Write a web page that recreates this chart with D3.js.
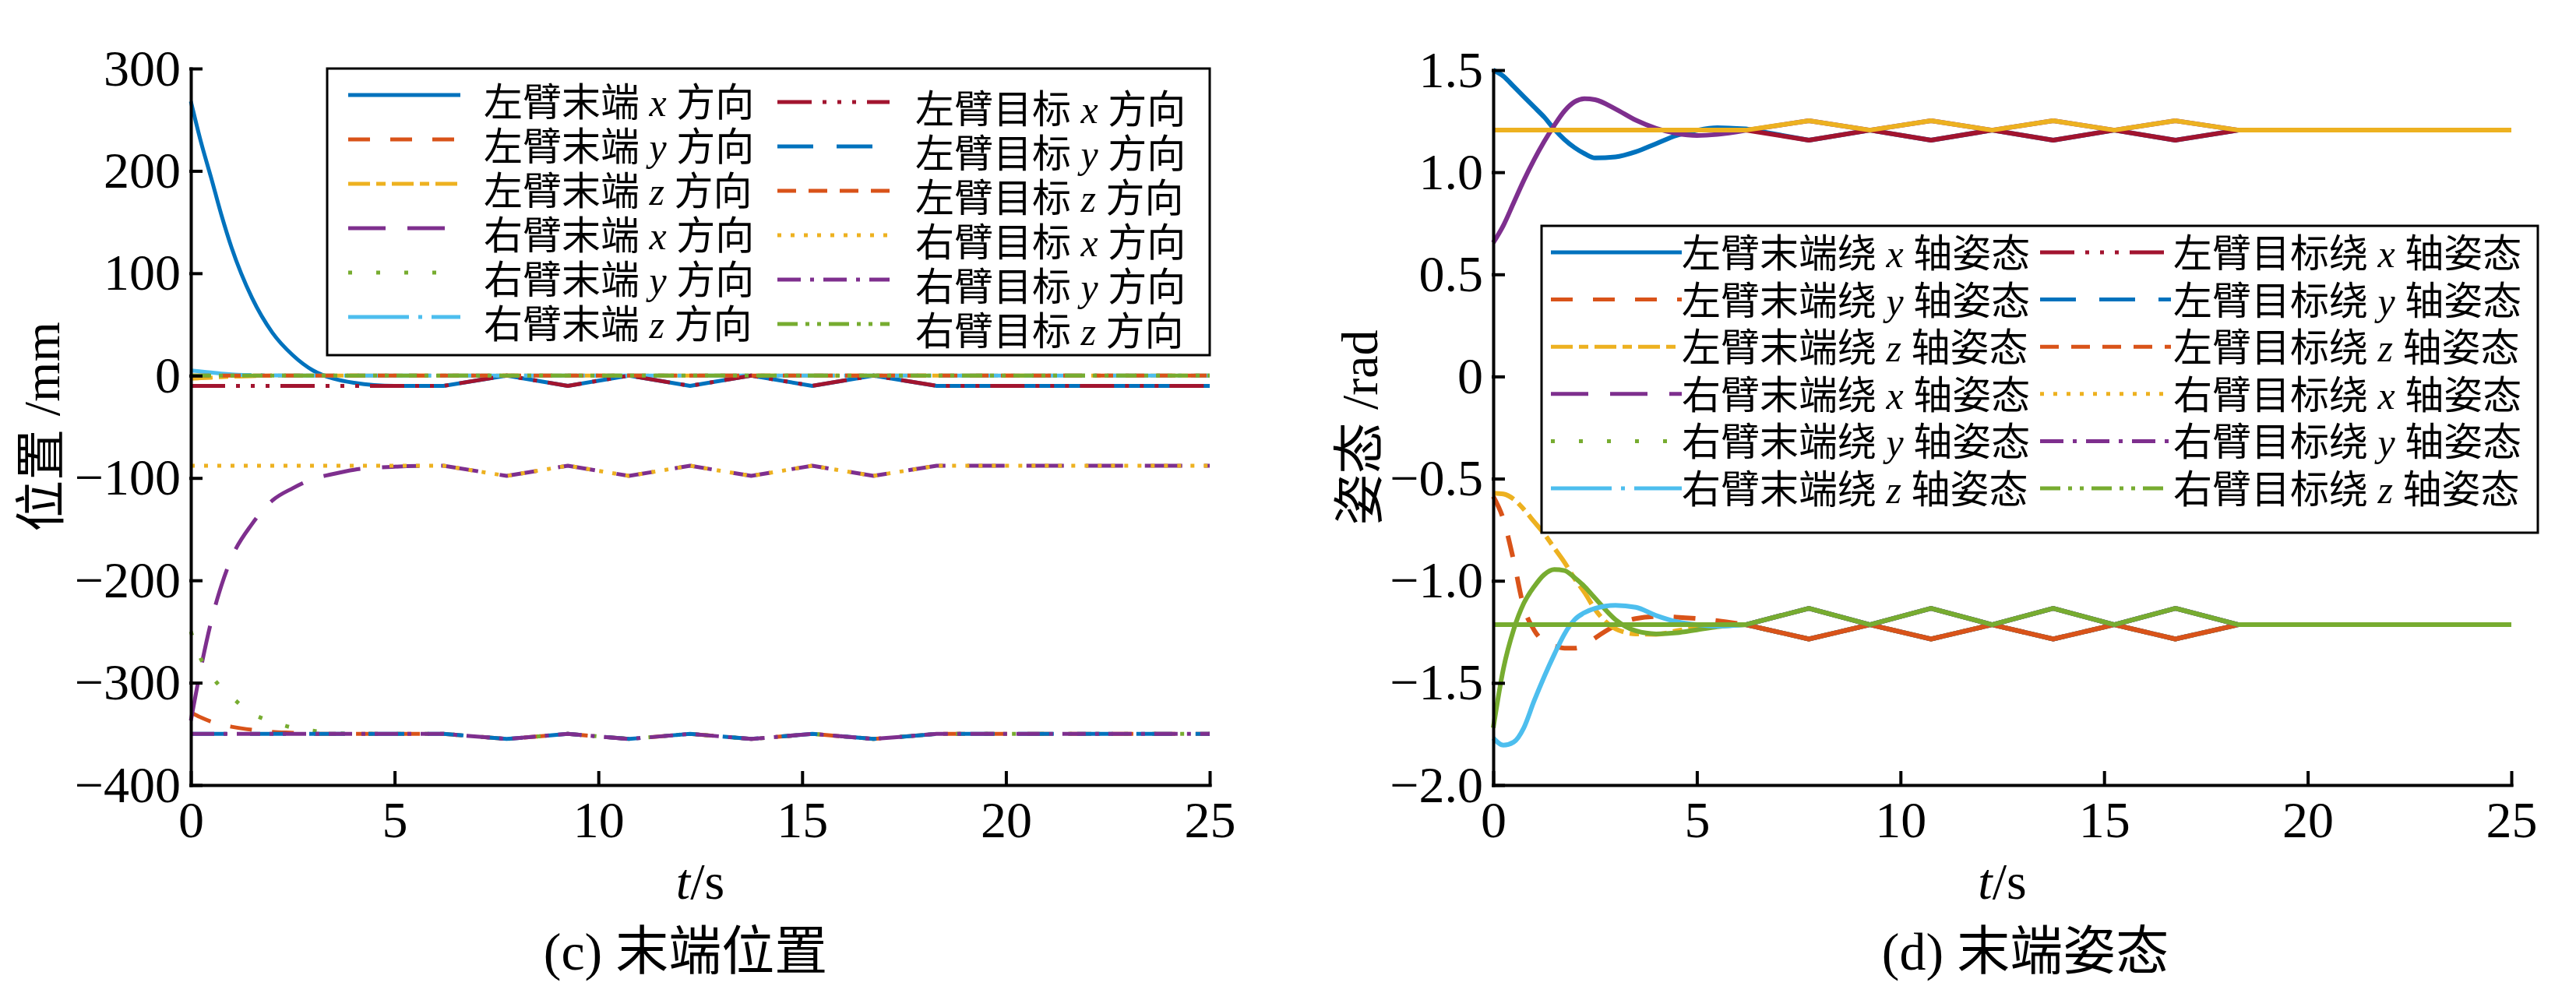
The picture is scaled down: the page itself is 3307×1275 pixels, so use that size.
<html>
<head>
<meta charset="utf-8">
<style>
  body { margin: 0; background: #fff; }
  text { font-family: "Liberation Serif", "Noto Sans CJK SC", serif; fill: #000; }
</style>
</head>
<body>
  <div id = 'chart'></div>
  <script src = 'https://d3js.org/d3.v7.min.js'></script>
  <script>
  // ---------- shared series info ----------
  var seriesArm  = ['左臂末端','左臂末端','左臂末端','右臂末端','右臂末端','右臂末端',
                    '左臂目标','左臂目标','左臂目标','右臂目标','右臂目标','右臂目标'];
  var seriesAxis = ['x','y','z','x','y','z','x','y','z','x','y','z'];
  var seriesColors = ['#0072BD','#D95319','#EDB120','#7E2F8E','#77AC30','#4DBEEE',
                      '#A2142F','#0072BD','#D95319','#EDB120','#7E2F8E','#77AC30'];
  var legendDash = [null,'28,26','28,8,12,8','48,28','5,31','78,12,5,12',
                    '44,14,5,14,5,14,5,14','46,30','24,16','5,12','30,12,5,12','26,10,5,10,5,10'];
  var attDash = [null,'28,26','28,8,12,8',null,null,null,null,null,null,null,null,null];

  // ---------- (c) position, mm ----------
  var timeEndPos = [0, 0.25, 0.5, 0.75, 1, 1.5, 2, 2.5, 3, 3.5, 4, 5, 6.2,
                    7.75, 9.25, 10.75, 12.25, 13.75, 15.25, 16.75, 18.3, 25];
  var leftEndPosX  = [268, 228, 193, 157, 125, 76, 42, 20, 5, -3, -7, -10, -10,
                      0, -10, 0, -10, 0, -10, 0, -10, -10];
  var leftEndPosY  = [-329, -334, -338, -341, -343, -346, -348, -349, -350, -350, -350, -350, -350,
                      -355, -350, -355, -350, -355, -350, -355, -350, -350];
  var leftEndPosZ  = [-3, -2.5, -2, -1.5, -1, -0.5, 0, 0, 0, 0, 0, 0, 0,
                      0, 0, 0, 0, 0, 0, 0, 0, 0];
  var rightEndPosX = [-337, -285, -240, -205, -178, -145, -122, -110, -101, -96, -92, -89, -88,
                      -98, -88, -98, -88, -98, -88, -98, -88, -88];
  var rightEndPosY = [-250, -277, -293, -305, -314, -330, -338, -344, -347, -349, -350, -350, -350,
                      -355, -350, -355, -350, -355, -350, -355, -350, -350];
  var rightEndPosZ = [5, 4, 3, 2, 1.2, 0.5, 0.2, 0, 0, 0, 0, 0, 0,
                      0, 0, 0, 0, 0, 0, 0, 0, 0];

  var timeTarget = [0, 6.2, 7.75, 9.25, 10.75, 12.25, 13.75, 15.25, 16.75, 18.3, 25];
  var leftTgtPosX  = [-10, -10, 0, -10, 0, -10, 0, -10, 0, -10, -10];
  var leftTgtPosY  = [-350, -350, -355, -350, -355, -350, -355, -350, -355, -350, -350];
  var leftTgtPosZ  = [0, 0, 0, 0, 0, 0, 0, 0, 0, 0, 0];
  var rightTgtPosX = [-88, -88, -98, -88, -98, -88, -98, -88, -98, -88, -88];
  var rightTgtPosY = [-350, -350, -355, -350, -355, -350, -355, -350, -355, -350, -350];
  var rightTgtPosZ = [0, 0, 0, 0, 0, 0, 0, 0, 0, 0, 0];

  var posTicks = [-400, -300, -200, -100, 0, 100, 200, 300];
  var posTickLabels = ['\u2212400','\u2212300','\u2212200','\u2212100','0','100','200','300'];

  // ---------- (d) attitude, rad ----------
  var timeEndAtt = [0, 0.25, 0.5, 0.75, 1, 1.25, 1.5, 1.75, 2, 2.25, 2.5, 3, 3.5, 4, 4.5, 5, 5.5, 6.2,
                    7.75, 9.25, 10.75, 12.25, 13.75, 15.25, 16.75, 18.3, 25];
  var leftEndAttX  = [1.50, 1.47, 1.42, 1.37, 1.32, 1.27, 1.21, 1.16, 1.12, 1.09, 1.07, 1.075, 1.10, 1.14, 1.18, 1.205, 1.218, 1.212,
                      1.157, 1.206, 1.157, 1.206, 1.157, 1.206, 1.157, 1.206, 1.206];
  var leftEndAttY  = [-0.587, -0.70, -0.90, -1.13, -1.24, -1.30, -1.32, -1.33, -1.33, -1.315, -1.28, -1.22, -1.185, -1.175, -1.178, -1.185, -1.195, -1.215,
                      -1.285, -1.215, -1.285, -1.215, -1.285, -1.215, -1.285, -1.215, -1.215];
  var leftEndAttZ  = [-0.571, -0.575, -0.60, -0.65, -0.71, -0.77, -0.84, -0.91, -0.99, -1.06, -1.14, -1.235, -1.26, -1.262, -1.245, -1.23, -1.22, -1.215,
                      -1.285, -1.215, -1.285, -1.215, -1.285, -1.215, -1.285, -1.215, -1.215];
  var rightEndAttX = [0.655, 0.74, 0.85, 0.96, 1.06, 1.15, 1.23, 1.30, 1.345, 1.36, 1.355, 1.31, 1.255, 1.215, 1.19, 1.18, 1.185, 1.205,
                      1.252, 1.206, 1.252, 1.206, 1.252, 1.206, 1.252, 1.206, 1.206];
  var rightEndAttY = [-1.72, -1.43, -1.24, -1.11, -1.03, -0.97, -0.945, -0.95, -0.985, -1.03, -1.085, -1.19, -1.245, -1.26, -1.255, -1.24, -1.225, -1.215,
                      -1.135, -1.215, -1.135, -1.215, -1.135, -1.215, -1.135, -1.215, -1.215];
  var rightEndAttZ = [-1.77, -1.805, -1.79, -1.72, -1.59, -1.47, -1.36, -1.26, -1.19, -1.155, -1.135, -1.12, -1.13, -1.17, -1.20, -1.215, -1.222, -1.215,
                      -1.135, -1.215, -1.135, -1.215, -1.135, -1.215, -1.135, -1.215, -1.215];

  var leftTgtAttX  = [1.206, 1.206, 1.157, 1.206, 1.157, 1.206, 1.157, 1.206, 1.157, 1.206, 1.206];
  var leftTgtAttY  = [-1.215, -1.215, -1.285, -1.215, -1.285, -1.215, -1.285, -1.215, -1.285, -1.215, -1.215];
  var leftTgtAttZ  = [-1.215, -1.215, -1.285, -1.215, -1.285, -1.215, -1.285, -1.215, -1.285, -1.215, -1.215];
  var rightTgtAttX = [1.206, 1.206, 1.252, 1.206, 1.252, 1.206, 1.252, 1.206, 1.252, 1.206, 1.206];
  var rightTgtAttY = [-1.215, -1.215, -1.135, -1.215, -1.135, -1.215, -1.135, -1.215, -1.135, -1.215, -1.215];
  var rightTgtAttZ = [-1.215, -1.215, -1.135, -1.215, -1.135, -1.215, -1.135, -1.215, -1.135, -1.215, -1.215];

  var attTicks = [-2, -1.5, -1, -0.5, 0, 0.5, 1, 1.5];
  var attTickLabels = ['\u22122.0','\u22121.5','\u22121.0','\u22120.5','0','0.5','1.0','1.5'];

  var timeTicks = [0, 5, 10, 15, 20, 25];
  var timeTickLabels = ['0','5','10','15','20','25'];

  // ---------- drawing ----------
  var svg = d3.select('#chart').append('svg')
              .attr('width', 3307)
              .attr('height', 1275);

  function drawPanel(cfg){
    var x = d3.scaleLinear().domain([0, 25]).range([cfg.left, cfg.right]),
        y = d3.scaleLinear().domain(cfg.yDomain).range([cfg.bottom, cfg.top]),
        g = svg.append('g');

    var smooth = d3.line()
      .x(function(d){ return x(d[0]); })
      .y(function(d){ return y(d[1]); })
      .curve(d3.curveMonotoneX);
    var straight = d3.line()
      .x(function(d){ return x(d[0]); })
      .y(function(d){ return y(d[1]); });

    cfg.series.forEach(function(s, i){
      var pts = s[0].map(function(t, j){ return [t, s[1][j]]; }),
          d;
      if (i < 6) {
        // smooth transient, then straight tracking segments
        var head = pts.filter(function(p){ return p[0] <= cfg.splitT; }),
            tail = pts.filter(function(p){ return p[0] >= cfg.splitT; });
        d = smooth(head) + straight(tail).replace(/^M/, 'L');
      } else {
        d = straight(pts);
      }
      g.append('path')
        .attr('d', d)
        .attr('fill', 'none')
        .attr('stroke', seriesColors[i])
        .attr('stroke-width', cfg.lineWidth)
        .attr('stroke-dasharray', cfg.dash[i])
        .attr('stroke-linejoin', 'round');
    });

    // legend
    var lg = cfg.legend;
    g.append('rect')
      .attr('x', lg.x).attr('y', lg.y).attr('width', lg.w).attr('height', lg.h)
      .attr('fill', '#fff').attr('stroke', '#000').attr('stroke-width', 3);
    seriesArm.forEach(function(arm, i){
      var col = i < 6 ? 0 : 1,
          row = i % 6,
          ly = lg.rowY + row * lg.rowStep + col * lg.colShift;
      g.append('line')
        .attr('x1', lg.lineX[col]).attr('x2', lg.lineX[col] + lg.lineLen)
        .attr('y1', ly).attr('y2', ly)
        .attr('stroke', seriesColors[i])
        .attr('stroke-width', 5)
        .attr('stroke-dasharray', legendDash[i]);
      var t = g.append('text')
        .attr('x', lg.textX[col])
        .attr('y', ly + lg.textShift)
        .attr('dominant-baseline', 'central')
        .style('font-size', '50px')
        .style('white-space', 'pre');
      t.append('tspan').text(arm + lg.mid + ' ');
      t.append('tspan').style('font-style', 'italic').text(seriesAxis[i]);
      t.append('tspan').text(' ' + lg.suffix);
    });

    // axes
    var yAxis = d3.axisLeft(y)
      .tickValues(cfg.yTicks)
      .tickFormat(function(d, i){ return cfg.yTickLabels[i]; })
      .tickSizeInner(-13).tickSizeOuter(0).tickPadding(13);
    var xAxis = d3.axisBottom(x)
      .tickValues(timeTicks)
      .tickFormat(function(d, i){ return timeTickLabels[i]; })
      .tickSizeInner(-16).tickSizeOuter(0).tickPadding(20);

    var ya = g.append('g').attr('transform', 'translate(' + cfg.left + ',0)').call(yAxis);
    var xa = g.append('g').attr('transform', 'translate(0,' + cfg.bottom + ')').call(xAxis);
    [ya, xa].forEach(function(a){
      a.attr('font-family', null).attr('font-size', null);
      a.selectAll('path, line').attr('stroke', '#000').attr('stroke-width', 4).attr('stroke-linecap', 'square');
      a.selectAll('text').attr('fill', '#000').style('font-size', '66px');
    });

    // labels
    g.append('text')
      .attr('transform', 'translate(' + cfg.yLabelX + ',' + (cfg.top + cfg.bottom) / 2 + ') rotate(-90)')
      .attr('text-anchor', 'middle')
      .attr('dominant-baseline', 'central')
      .style('font-size', '66px')
      .style('white-space', 'pre')
      .text(cfg.yLabel);

    var xl = g.append('text')
      .attr('x', (cfg.left + cfg.right) / 2)
      .attr('y', 1154)
      .attr('text-anchor', 'middle')
      .style('font-size', '66px');
    xl.append('tspan').style('font-style', 'italic').text('t');
    xl.append('tspan').text('/s');

    g.append('text')
      .attr('x', cfg.captionX)
      .attr('y', 1245)
      .attr('text-anchor', 'middle')
      .style('font-size', '68px')
      .style('white-space', 'pre')
      .text(cfg.caption);
  }

  drawPanel({
    left: 245, right: 1553, top: 88, bottom: 1008,
    yDomain: [-400, 300], yTicks: posTicks, yTickLabels: posTickLabels,
    lineWidth: 5, dash: legendDash, splitT: 6.2,
    series: [[timeEndPos, leftEndPosX], [timeEndPos, leftEndPosY], [timeEndPos, leftEndPosZ],
             [timeEndPos, rightEndPosX], [timeEndPos, rightEndPosY], [timeEndPos, rightEndPosZ],
             [timeTarget, leftTgtPosX], [timeTarget, leftTgtPosY], [timeTarget, leftTgtPosZ],
             [timeTarget, rightTgtPosX], [timeTarget, rightTgtPosY], [timeTarget, rightTgtPosZ]],
    legend: { x: 420, y: 88, w: 1133, h: 368, rowY: 122, rowStep: 57, colShift: 9,
              lineX: [447, 998], lineLen: 144, textX: [621, 1175], textShift: 10,
              mid: '', suffix: '方向' },
    yLabelX: 53, yLabel: '位置 /mm',
    captionX: 880, caption: '(c) 末端位置'
  });

  drawPanel({
    left: 1917, right: 3224, top: 90, bottom: 1008,
    yDomain: [-2, 1.5], yTicks: attTicks, yTickLabels: attTickLabels,
    lineWidth: 6, dash: attDash, splitT: 6.2,
    series: [[timeEndAtt, leftEndAttX], [timeEndAtt, leftEndAttY], [timeEndAtt, leftEndAttZ],
             [timeEndAtt, rightEndAttX], [timeEndAtt, rightEndAttY], [timeEndAtt, rightEndAttZ],
             [timeTarget, leftTgtAttX], [timeTarget, leftTgtAttY], [timeTarget, leftTgtAttZ],
             [timeTarget, rightTgtAttX], [timeTarget, rightTgtAttY], [timeTarget, rightTgtAttZ]],
    legend: { x: 1979, y: 290, w: 1279, h: 394, rowY: 324, rowStep: 60.6, colShift: 0,
              lineX: [1991, 2619], lineLen: 168, textX: [2159, 2790], textShift: 2,
              mid: '绕', suffix: '轴姿态' },
    yLabelX: 1745, yLabel: '姿态 /rad',
    captionX: 2600, caption: '(d) 末端姿态'
  });
  </script>
</body>
</html>
